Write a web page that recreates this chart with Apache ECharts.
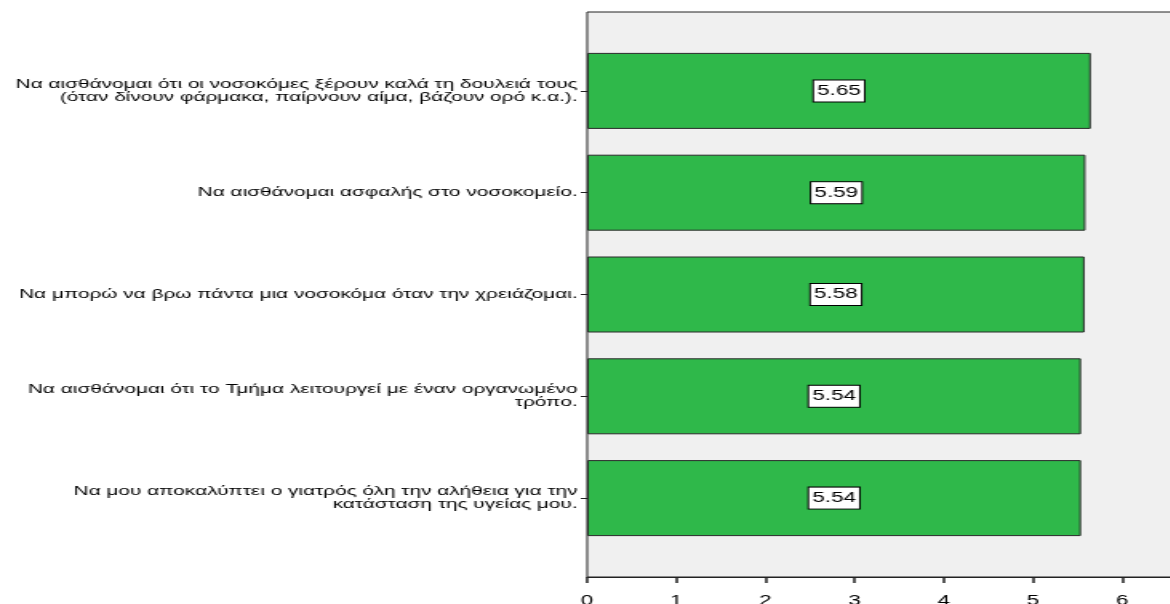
<!DOCTYPE html>
<html>
<head>
<meta charset="utf-8">
<script src="https://cdn.jsdelivr.net/npm/echarts@6/dist/echarts.min.js"></script>
<style>
  html, body { margin: 0; padding: 0; background: #fff; overflow: hidden; }
  /* the source picture is a horizontally stretched SPSS chart */
  #chart { width: 731px; height: 604px; transform: scaleX(1.6); transform-origin: 0 0; }
</style>
</head>
<body>
<div id="chart"></div>
<script>
const categories = [
  'Να αισθάνομαι ότι οι νοσοκόμες ξέρουν καλά τη δουλειά τους\n(όταν δίνουν φάρμακα, παίρνουν αίμα, βάζουν ορό κ.α.).',
  'Να αισθάνομαι ασφαλής στο νοσοκομείο.',
  'Να μπορώ να βρω πάντα μια νοσοκόμα όταν την χρειάζομαι.',
  'Να αισθάνομαι ότι το Τμήμα λειτουργεί με έναν οργανωμένο\nτρόπο.',
  'Να μου αποκαλύπτει ο γιατρός όλη την αλήθεια για την\nκατάσταση της υγείας μου.'
]
const means = [5.65, 5.59, 5.58, 5.54, 5.54]
const xTicks = [0, 1, 2, 3, 4, 5, 6, 7]

const chart = echarts.init(document.getElementById('chart'))

const font = 'Liberation Sans'

chart.setOption({
  animation: false,
  textStyle: { fontFamily: font },
  grid: [
    // frame + grey background, runs past the right edge like the source
    {
      left: 367, top: 12, bottom: 27, width: 390, outerBoundsMode: 'none',
      show: true, backgroundColor: '#f0f0f0', borderColor: '#222', borderWidth: 1
    },
    // bars, inset from the frame like SPSS does
    { left: 367, top: 40, bottom: 55, width: 390, outerBoundsMode: 'none' }
  ],
  xAxis: [
    {
      gridIndex: 0, type: 'value', min: xTicks[0], max: xTicks[xTicks.length - 1], interval: 1,
      axisLine: { show: true, lineStyle: { color: '#222' } },
      axisTick: { show: true, length: 6, lineStyle: { color: '#222', width: 1.5 } },
      axisLabel: { color: '#000', fontSize: 14, margin: 17, fontFamily: font },
      splitLine: { show: false }
    },
    { gridIndex: 1, type: 'value', min: xTicks[0], max: xTicks[xTicks.length - 1], show: false }
  ],
  yAxis: [
    { gridIndex: 0, type: 'value', show: false },
    {
      gridIndex: 1, type: 'category', inverse: true, data: categories,
      axisLine: { show: false },
      axisTick: { show: true, alignWithLabel: true, length: 4, lineStyle: { color: '#222' } },
      axisLabel: {
        color: '#000', fontSize: 13, lineHeight: 13, margin: 6,
        align: 'right', fontFamily: font
      }
    }
  ],
  series: [
    {
      type: 'bar',
      xAxisIndex: 1,
      yAxisIndex: 1,
      data: means,
      barWidth: 76,
      itemStyle: { color: '#2fb84a', borderColor: '#2a2a2a', borderWidth: 1 },
      label: {
        show: true,
        position: 'inside',
        formatter: p => p.value.toFixed(2),
        color: '#000',
        fontSize: 14,
        fontFamily: font,
        backgroundColor: '#fff',
        borderColor: '#000',
        borderWidth: 1,
        padding: [4, 2, 3, 2]
      }
    }
  ]
})
</script>
</body>
</html>
